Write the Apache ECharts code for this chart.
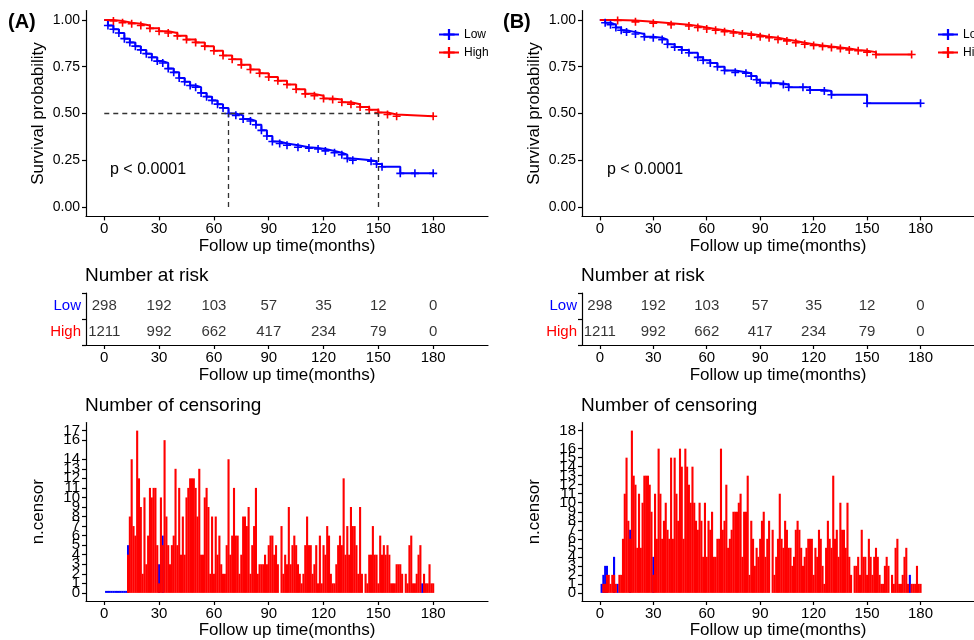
<!DOCTYPE html>
<html>
<head>
<meta charset="utf-8">
<script src="https://cdn.jsdelivr.net/npm/echarts@6/dist/echarts.min.js"></script>
<style>html,body{margin:0;background:#fff}#main{width:974px;height:640px}</style>
</head>
<body>
<div id="main"></div>
<script>
// survival curves (months, probability)
var timeLowA = [0,2,5,8,11,14,17,20,23,26,29,32,35,38,41,44,47,50,53,56,59,62,65,68,72,76,80,83,86,89,92,96,100,106,112,117,121,126,130,133,136,146,149,152,162,170,180];
var survLowA = [1.00,0.97,0.95,0.93,0.90,0.88,0.86,0.84,0.82,0.80,0.78,0.77,0.74,0.72,0.69,0.67,0.65,0.64,0.61,0.59,0.57,0.55,0.53,0.50,0.49,0.47,0.46,0.44,0.41,0.38,0.35,0.34,0.33,0.32,0.315,0.31,0.30,0.29,0.28,0.26,0.25,0.245,0.23,0.215,0.18,0.18,0.18];
var timeHighA = [0,5,10,15,20,25,30,35,40,45,50,55,60,65,70,75,80,85,90,95,100,105,110,115,120,125,130,135,140,145,150,155,160,180];
var survHighA = [1.0,0.995,0.985,0.98,0.97,0.955,0.94,0.93,0.915,0.895,0.88,0.86,0.835,0.81,0.79,0.76,0.735,0.715,0.695,0.675,0.655,0.63,0.605,0.595,0.58,0.575,0.56,0.55,0.535,0.52,0.505,0.495,0.485,0.485];
var timeLowB = [0,3,6,9,12,15,20,25,30,35,38,42,46,50,55,58,62,66,70,76,82,85,88,90,96,103,106,114,118,126,130,150,180];
var survLowB = [1.0,0.985,0.975,0.96,0.945,0.935,0.925,0.91,0.905,0.895,0.87,0.855,0.84,0.825,0.80,0.785,0.77,0.75,0.73,0.72,0.715,0.70,0.68,0.665,0.66,0.655,0.64,0.64,0.625,0.62,0.60,0.555,0.555];
var timeHighB = [0,10,20,30,40,50,55,60,65,70,75,80,85,90,95,100,105,110,115,120,125,130,135,140,145,150,155,175];
var survHighB = [1.0,0.997,0.99,0.983,0.975,0.968,0.96,0.952,0.945,0.937,0.93,0.925,0.918,0.91,0.905,0.896,0.888,0.878,0.87,0.864,0.858,0.853,0.847,0.84,0.835,0.828,0.815,0.815];
var medianA = [68, 150]; // Low, High

// number at risk
var riskTimes = [0,30,60,90,120,150,180];
var riskLowA = [298,192,103,57,35,12,0];
var riskHighA = [1211,992,662,417,234,79,0];
var riskLowB = [298,192,103,57,35,12,0];
var riskHighB = [1211,992,662,417,234,79,0];

// number of censoring, month 1..180
var censorHighA = [
  null,null,null,null,null,null,null,null,null,null,
  null,null,4,8,14,7,6,17,12,9,
  2,10,3,6,11,10,11,11,5,1,
  10,5,16,8,5,3,5,6,13,5,
  11,4,8,4,10,11,12,12,12,11,
  8,13,4,4,10,11,9,2,8,2,
  8,4,6,3,2,2,5,14,4,6,
  11,6,6,2,4,8,8,7,9,2,
  5,7,11,2,3,3,3,4,3,5,
  6,6,4,5,3,null,7,2,4,3,
  9,3,5,6,5,3,2,1,2,5,
  8,5,5,2,3,5,1,6,1,5,
  4,7,6,2,1,1,3,5,6,5,
  12,4,7,4,9,7,7,5,2,9,
  2,null,2,1,4,4,7,4,4,1,
  6,4,5,4,5,4,1,1,1,3,
  3,3,2,null,2,1,5,6,1,1,
  2,4,5,null,2,1,1,3,1,1];
var censorLowA = {1:0,2:0,3:0,4:0,5:0,6:0,7:0,8:0,9:0,10:0,11:0,12:0,13:5,30:3,32:6,174:1};
var censorHighB = [
  null,1,1,2,2,1,2,2,1,null,
  2,2,6,11,15,8,6,18,13,12,
  5,11,5,10,13,13,13,12,9,2,
  11,6,16,11,6,8,10,7,6,15,
  6,15,11,8,16,14,6,16,14,12,
  10,14,10,8,7,10,8,4,10,4,
  8,7,9,4,4,6,6,16,7,8,
  12,5,6,7,9,9,9,10,11,4,
  9,9,13,2,8,6,3,5,4,6,
  8,9,4,6,8,null,7,2,4,6,
  11,6,5,8,7,5,5,3,4,7,
  8,7,5,3,4,5,6,6,6,2,
  5,4,7,6,3,1,5,8,6,5,
  13,6,7,4,10,7,7,5,10,4,
  2,null,3,3,4,2,7,4,4,2,
  6,4,2,4,5,4,2,1,1,3,
  4,3,null,2,1,5,6,1,1,2,
  4,5,1,null,1,1,1,3,1,1];
var censorLowB = {1:1,2:2,3:3,4:3,8:4,10:1,17:7,30:4,174:2};

var xTicks = [0,30,60,90,120,150,180];
var survTicks = [0,0.25,0.5,0.75,1];
var censorTicksA = [0,1,2,3,4,5,6,7,8,9,10,11,12,13,14,16,17];
var censorTicksB = [0,1,2,3,4,5,6,7,8,9,10,11,12,13,14,15,16,18];

var BLUE = '#0000ff', RED = '#ff0000';
var FONT = 'Liberation Sans';
var plus = 'path://M4,0H6V4H10V6H6V10H4V6H0V4H4Z';

function curve(t, s) {
  return t.map(function (x, i) {
    return i === 0 ? {value: [x, s[i]], symbol: 'none'} : [x, s[i]];
  });
}
function lineAx() {
  return {
    axisLine: {show: true, onZero: false, lineStyle: {color: '#000', width: 1.2}},
    axisTick: {show: true, length: 4, lineStyle: {color: '#000', width: 1.2}},
    splitLine: {show: false}
  };
}
function xAx(gi, nameGap) {
  return Object.assign(lineAx(), {
    type: 'value', gridIndex: gi, min: -10, max: 210,
    axisLabel: {customValues: xTicks, fontSize: 15, color: '#000', fontFamily: FONT, margin: 5,
      showMinLabel: true, showMaxLabel: true},
    axisTick: {show: true, length: 4, customValues: xTicks, lineStyle: {color: '#000', width: 1.2}},
    name: 'Follow up time(months)', nameLocation: 'middle', nameGap: nameGap,
    nameTextStyle: {fontSize: 17, color: '#000', fontFamily: FONT}
  });
}

var grids = [], xAxes = [], yAxes = [], series = [];

function panel(left, width, d) {
  var g = grids.length;
  var y0 = yAxes.length;
  grids.push({left: left, top: 10.6, width: width, height: 205.8});
  grids.push({left: left, top: 293, width: width, height: 52});
  grids.push({left: left, top: 422.5, width: width, height: 180.5});

  xAxes.push(xAx(g, 21), xAx(g + 1, 22), xAx(g + 2, 21));

  yAxes.push(Object.assign(lineAx(), {
    type: 'value', gridIndex: g, min: -0.05, max: 1.05,
    axisLabel: {customValues: survTicks, fontSize: 14, color: '#000', fontFamily: FONT, margin: 6,
      showMinLabel: true, showMaxLabel: true,
      formatter: function (v) { return v.toFixed(2); }},
    axisTick: {show: true, length: 4, customValues: survTicks, lineStyle: {color: '#000', width: 1.2}},
    name: 'Survival probability', nameLocation: 'middle', nameGap: 39,
    nameTextStyle: {fontSize: 17, color: '#000', fontFamily: FONT}
  }));
  yAxes.push(Object.assign(lineAx(), {
    type: 'category', gridIndex: g + 1, data: ['High', 'Low'],
    axisLabel: {fontSize: 15, fontFamily: FONT, margin: 5,
      color: function (v) { return v === 'Low' ? BLUE : RED; }}
  }));
  // censoring y axis: the tick labels sit very close together, so they are
  // split over two overlaid axes (even / odd positions) to keep them all drawn
  var evenTicks = d.cTicks.filter(function (v, i) { return i % 2 === 0; });
  var oddTicks = d.cTicks.filter(function (v, i) { return i % 2 === 1; });
  yAxes.push(Object.assign(lineAx(), {
    type: 'value', gridIndex: g + 2, min: d.cMin, max: d.cMax,
    axisLabel: {customValues: evenTicks, fontSize: 15, color: '#000', fontFamily: FONT, margin: 6,
      showMinLabel: true, showMaxLabel: true},
    axisTick: {show: true, length: 4, customValues: d.cTicks, lineStyle: {color: '#000', width: 1.2}},
    name: 'n.censor', nameLocation: 'middle', nameGap: 39,
    nameTextStyle: {fontSize: 17, color: '#000', fontFamily: FONT}
  }));
  yAxes.push({
    type: 'value', gridIndex: g + 2, min: d.cMin, max: d.cMax, position: 'left', offset: 0,
    axisLine: {show: false}, axisTick: {show: false}, splitLine: {show: false},
    axisLabel: {customValues: oddTicks, fontSize: 15, color: '#000', fontFamily: FONT, margin: 6,
      showMinLabel: true, showMaxLabel: true}
  });

  var low = {
    type: 'line', name: 'Low', xAxisIndex: g, yAxisIndex: y0, step: 'end',
    data: curve(d.tL, d.sL), symbol: plus, symbolSize: 8, showSymbol: true,
    lineStyle: {color: BLUE, width: 2}, itemStyle: {color: BLUE}, z: 3
  };
  if (d.median) {
    var m = d.median;
    low.markLine = {
      silent: true, symbol: ['none', 'none'], label: {show: false},
      lineStyle: {type: [5, 4], color: '#333', width: 1.3},
      data: [
        [{coord: [0, 0.5]}, {coord: [m[1], 0.5]}],
        [{coord: [m[0], 0]}, {coord: [m[0], 0.5]}],
        [{coord: [m[1], 0]}, {coord: [m[1], 0.5]}]
      ]
    };
  }
  series.push(low);
  series.push({
    type: 'line', name: 'High', xAxisIndex: g, yAxisIndex: y0, step: 'end',
    data: curve(d.tH, d.sH), symbol: plus, symbolSize: 8, showSymbol: true,
    lineStyle: {color: RED, width: 2}, itemStyle: {color: RED}, z: 3
  });

  var risk = [];
  riskTimes.forEach(function (t, i) {
    risk.push([t, 'Low', d.rL[i]]);
    risk.push([t, 'High', d.rH[i]]);
  });
  series.push({
    type: 'scatter', name: 'risk', xAxisIndex: g + 1, yAxisIndex: y0 + 1,
    data: risk, symbolSize: 1, itemStyle: {color: 'rgba(0,0,0,0)'},
    label: {show: true, position: 'inside', fontSize: 15, color: '#000', fontFamily: FONT,
      formatter: function (p) { return p.value[2]; }}
  });

  var months = [], lowBars = [], highBars = [];
  for (var i = 0; i < d.cH.length; i++) months.push(i + 1);
  months.forEach(function (t, i) {
    highBars.push([t, d.cH[i]]);
    lowBars.push([t, d.cL[t] === undefined ? null : d.cL[t]]);
  });
  series.push({
    type: 'bar', name: 'censorLow', xAxisIndex: g + 2, yAxisIndex: y0 + 2,
    data: lowBars, barGap: '-100%', barWidth: 2.1, barMinHeight: 2,
    itemStyle: {color: BLUE}
  });
  series.push({
    type: 'bar', name: 'censorHigh', xAxisIndex: g + 2, yAxisIndex: y0 + 2,
    data: highBars, barGap: '-100%', barWidth: 2.1,
    itemStyle: {color: RED}
  });
}

panel(86, 402, {tL: timeLowA, sL: survLowA, tH: timeHighA, sH: survHighA, median: medianA,
  rL: riskLowA, rH: riskHighA, cH: censorHighA, cL: censorLowA,
  cMin: -0.85, cMax: 17.85, cTicks: censorTicksA});
panel(582, 403, {tL: timeLowB, sL: survLowB, tH: timeHighB, sH: survHighB,
  rL: riskLowB, rH: riskHighB, cH: censorHighB, cL: censorLowB,
  cMin: -0.9, cMax: 18.9, cTicks: censorTicksB});

function txt(x, y, s, size, weight) {
  return {type: 'text', left: x, top: y,
    style: {text: s, fontSize: size, fontWeight: weight || 'normal', fontFamily: FONT, fill: '#000'}};
}

var myChart = echarts.init(document.getElementById('main'));
myChart.setOption({
  animation: false,
  backgroundColor: '#fff',
  grid: grids,
  xAxis: xAxes,
  yAxis: yAxes,
  legend: [
    {data: ['Low', 'High'], orient: 'vertical', left: 433, top: 23.5, itemWidth: 20, itemHeight: 14,
      itemGap: 6, textStyle: {fontSize: 12, color: '#000', fontFamily: FONT}},
    {data: ['Low', 'High'], orient: 'vertical', left: 932, top: 23.5, itemWidth: 20, itemHeight: 14,
      itemGap: 6, textStyle: {fontSize: 12, color: '#000', fontFamily: FONT}}
  ],
  graphic: [
    txt(8, 12, '(A)', 20, 'bold'),
    txt(503, 12, '(B)', 20, 'bold'),
    txt(110, 162, 'p < 0.0001', 16),
    txt(607, 162, 'p < 0.0001', 16),
    txt(85, 266, 'Number at risk', 19),
    txt(581, 266, 'Number at risk', 19),
    txt(85, 396, 'Number of censoring', 19),
    txt(581, 396, 'Number of censoring', 19)
  ],
  series: series
});
</script>
</body>
</html>
